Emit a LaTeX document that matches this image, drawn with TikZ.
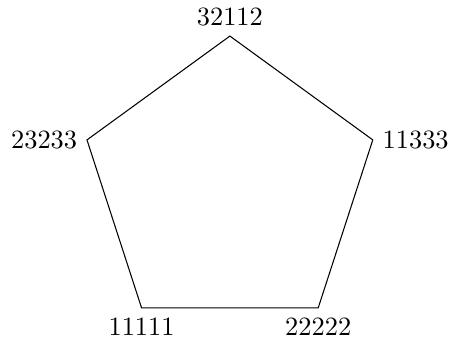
\documentclass[tikz,border=0pt]{standalone}
\usepackage{tikz}
\usetikzlibrary{positioning}
\tikzset{
  corner/.style={circle,inner sep=0pt,minimum size=0pt},
  edge/.style={line width=0.4pt,draw=black},
}
\begin{document}
\begin{tikzpicture}
  \useasboundingbox (-3.06,-2.04) rectangle (2.93,2.48);
  \node[corner,label=above:32112] (p1) at (90:2) {};
  \node[corner,label=left:23233] (p2) at (162:2) {};
  \node[corner,label=below:11111] (p3) at (234:2) {};
  \node[corner,label=below:22222] (p4) at (306:2) {};
  \node[corner,label=right:11333] (p5) at (18:2) {};
  \draw[edge] (p1.center) -- (p2.center) -- (p3.center) -- (p4.center)
    -- (p5.center) -- cycle;
\end{tikzpicture}
\end{document}
